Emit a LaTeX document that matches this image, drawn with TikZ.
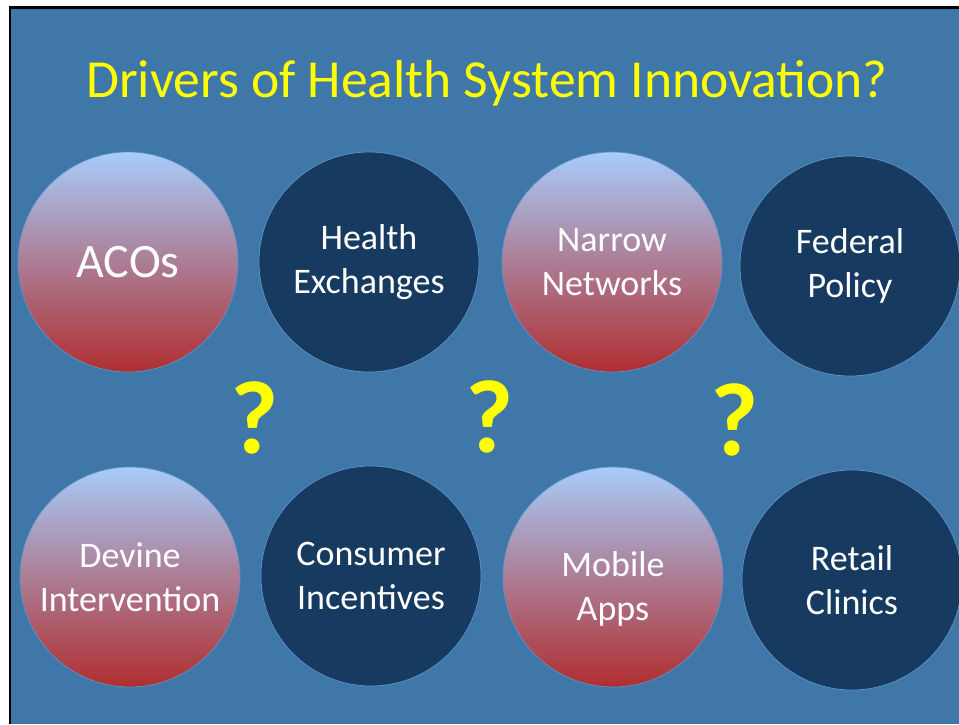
\documentclass[tikz,border=0pt]{standalone}
\usepackage{fontspec}
\setmainfont{Carlito}
\definecolor{slide}{RGB}{63,120,168}
\definecolor{navy}{RGB}{22,58,96}
\definecolor{ballTop}{RGB}{168,204,250}
\definecolor{ballBottom}{RGB}{176,46,48}
\definecolor{ballEdge}{RGB}{96,146,200}
\definecolor{qyellow}{RGB}{255,255,0}
\begin{document}
\begin{tikzpicture}[x=1pt,y=-1pt,
    balltext/.style={text=white,align=center,font=\fontsize{36}{44}\selectfont},
    ball/.style={circle,minimum size=220pt,inner sep=0pt,draw=ballEdge,line width=0.7pt,balltext},
    pinkball/.style={ball,top color=ballTop,bottom color=ballBottom},
    navyball/.style={ball,fill=navy},
    qmark/.style={text=qyellow,font=\fontsize{104}{104}\selectfont\bfseries}]
    \useasboundingbox[fill=white] (0,0) rectangle (959,724);
    \fill[black] (9,6) rectangle (959,724);
    \fill[slide] (11,9) rectangle (959,724);
    \node[text=qyellow,font=\fontsize{53.5}{60}\selectfont] (title) at (487,83) {Drivers of Health System Innovation?};
    % top row
    \node[pinkball,font=\fontsize{48}{56}\selectfont] (acos) at (128,262) {ACOs};
    \node[navyball] (exch) at (369,262) {Health\\Exchanges};
    \node[pinkball] (narrow) at (612,262) {Narrow\\Networks};
    \node[navyball] (federal) at (850,266) {Federal\\Policy};
    % bottom row
    \node[pinkball] (devine) at (130,577) {Devine\\Intervention};
    \node[navyball] (consumer) at (371,576) {Consumer\\Incentives};
    \node[pinkball,label={[balltext,yshift=-12pt]center:Mobile\\Apps}] (mobile) at (613,577) {};
    \node[navyball] (retail) at (852,580) {Retail\\Clinics};
    % question marks
    \node[qmark] (q1) at (255,418) {?};
    \node[qmark] (q2) at (490,417) {?};
    \node[qmark] (q3) at (735,420) {?};
\end{tikzpicture}
\end{document}
